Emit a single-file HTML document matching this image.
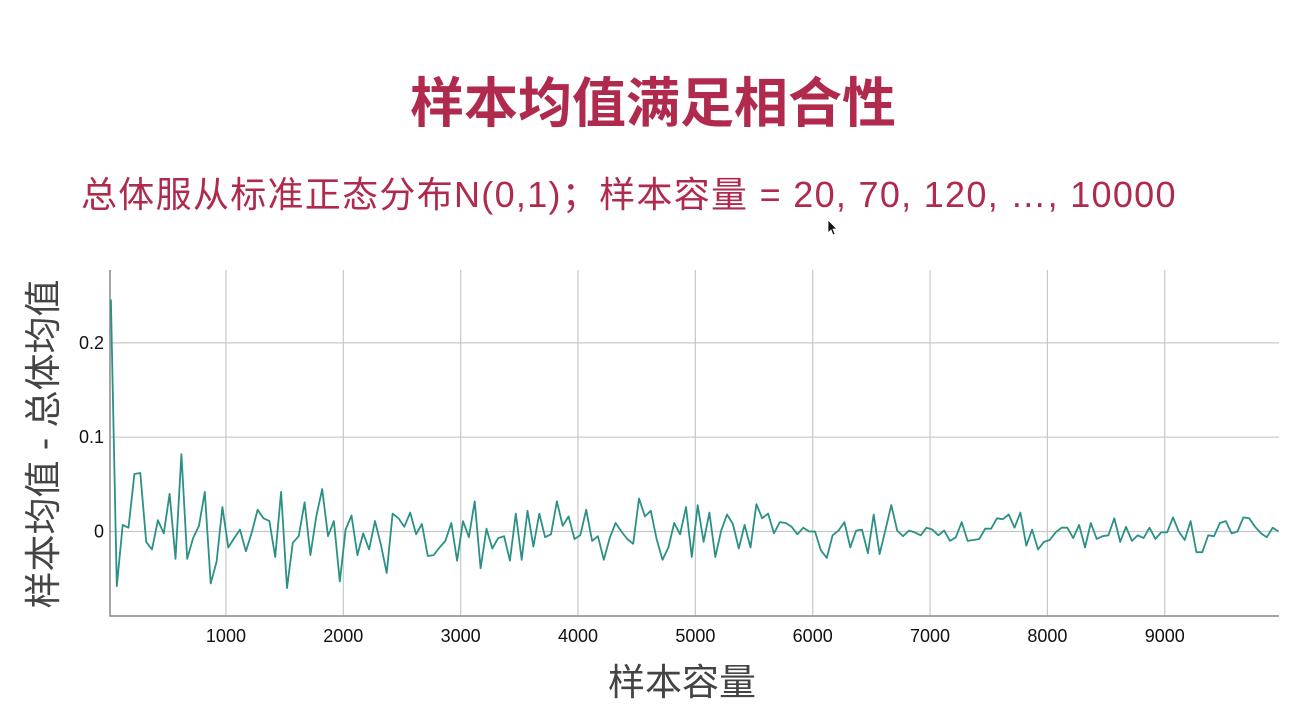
<!DOCTYPE html>
<html><head><meta charset="utf-8"><style>
body{margin:0;width:1298px;height:724px;background:#fff;overflow:hidden;position:relative;font-family:"Liberation Sans","Noto Sans CJK SC",sans-serif}
#title{position:absolute;left:0;width:1306px;top:72px;text-align:center;font-size:54px;font-weight:bold;color:#b02a4e;line-height:64px}
#sub{position:absolute;left:81px;top:174px;font-size:36px;letter-spacing:1.3px;color:#b02a4e;line-height:42px;white-space:nowrap}
svg{position:absolute;left:0;top:0}
</style></head><body>
<div id="title">样本均值满足相合性</div>
<div id="sub">总体服从标准正态分布N(0,1)；样本容量 = 20, 70, 120, …, 10000</div>
<svg id="chart" width="1298" height="724"></svg>
<script>
const xTicks=[1000,2000,3000,4000,5000,6000,7000,8000,9000];
const yTicks=[0,0.1,0.2];
const yTickLabels=["0","0.1","0.2"];
const sampleStart=20, sampleStep=50;
const diffs=[0.246,-0.058,0.007,0.004,0.061,0.062,-0.011,-0.019,0.012,-0.002,0.040,-0.029,0.082,-0.029,-0.007,0.006,0.042,-0.055,-0.032,0.026,-0.017,-0.007,0.002,-0.021,-0.001,0.023,0.014,0.011,-0.027,0.042,-0.060,-0.012,-0.005,0.031,-0.025,0.016,0.045,-0.005,0.011,-0.053,0.002,0.017,-0.025,-0.002,-0.019,0.011,-0.014,-0.044,0.019,0.014,
0.005,0.020,-0.003,0.008,-0.026,-0.025,-0.017,-0.010,0.009,-0.031,0.011,-0.006,0.032,-0.039,0.003,-0.018,-0.007,-0.005,-0.031,0.019,-0.030,0.022,-0.016,0.019,-0.006,-0.003,0.032,0.006,0.016,-0.008,-0.004,0.023,-0.010,-0.005,-0.030,-0.007,0.009,0.000,-0.008,-0.013,0.035,0.016,0.022,-0.008,-0.030,-0.017,0.009,-0.003,0.026,-0.027,0.028,
-0.011,0.020,-0.027,0.001,0.018,0.008,-0.018,0.007,-0.017,0.029,0.014,0.019,-0.002,0.010,0.009,0.005,-0.003,0.004,0.000,0.000,-0.020,-0.028,-0.004,0.001,0.010,-0.017,0.001,0.002,-0.023,0.018,-0.024,0.002,0.028,0.001,-0.005,0.001,-0.001,-0.004,0.004,0.002,-0.004,0.001,-0.010,-0.006,0.010,-0.010,-0.009,-0.008,0.003,0.003,
0.014,0.013,0.018,0.004,0.020,-0.015,0.002,-0.019,-0.011,-0.009,-0.001,0.004,0.004,-0.007,0.007,-0.017,0.009,-0.008,-0.005,-0.004,0.014,-0.011,0.005,-0.010,-0.004,-0.007,0.004,-0.008,-0.001,-0.001,0.015,0.000,-0.009,0.011,-0.022,-0.022,-0.004,-0.005,0.009,0.011,-0.002,0.000,0.015,0.014,0.005,-0.002,-0.006,0.004,0.000];
const NS="http://www.w3.org/2000/svg";
const svg=document.getElementById('chart');
const L=110,R=1279,T=270,B=616;
const xS=v=>108.6+v*0.11735;
const yS=v=>531.5-v*943;
function mk(t,a,p){const e=document.createElementNS(NS,t);for(const k in a)e.setAttribute(k,a[k]);(p||svg).appendChild(e);return e;}
xTicks.forEach((t,i)=>{
 const g=mk('line',{x1:xS(t),x2:xS(t),y1:T,y2:B,stroke:'#c8c8c8','stroke-width':1.2});
 
 
 const tx=mk('text',{x:xS(t),y:642,'text-anchor':'middle','font-size':18,fill:'#111','font-family':'Liberation Sans'});
 tx.textContent=t;
 
 
});
yTicks.forEach((t,i)=>{
 const g=mk('line',{x1:L,x2:R,y1:yS(t),y2:yS(t),stroke:'#c8c8c8','stroke-width':1.2});
 
 
 const tx=mk('text',{x:104,y:yS(t)+6,'text-anchor':'end','font-size':18,fill:'#111','font-family':'Liberation Sans'});
 tx.textContent=yTickLabels[i];
 
 
});
const ax=mk('path',{d:`M${L},${T}V${B}H${R}`,fill:'none',stroke:'#888','stroke-width':1.5});


const pts=diffs.map((v,i)=>xS(sampleStart+i*sampleStep).toFixed(1)+','+yS(v).toFixed(1)).join(' ');
const ln=mk('polyline',{points:pts,fill:'none',stroke:'#2a9184','stroke-width':1.8,'stroke-linejoin':'round'});


const xt=mk('text',{x:682,y:695,'text-anchor':'middle','font-size':37,fill:'#444','font-family':'Liberation Sans,Noto Sans CJK SC,sans-serif'});
xt.textContent='样本容量';


const yt=mk('text',{x:0,y:0,'text-anchor':'middle','font-size':37,fill:'#444','font-family':'Liberation Sans,Noto Sans CJK SC,sans-serif',transform:'translate(56,444) rotate(-90)'});
yt.textContent='样本均值 - 总体均值';


const cur=mk('path',{d:'M828,220 L828,233 L831,230 L833,235 L835,234 L833,229 L837,229 Z',fill:'#111',stroke:'#fff','stroke-width':0.8});


</script>
</body></html>
